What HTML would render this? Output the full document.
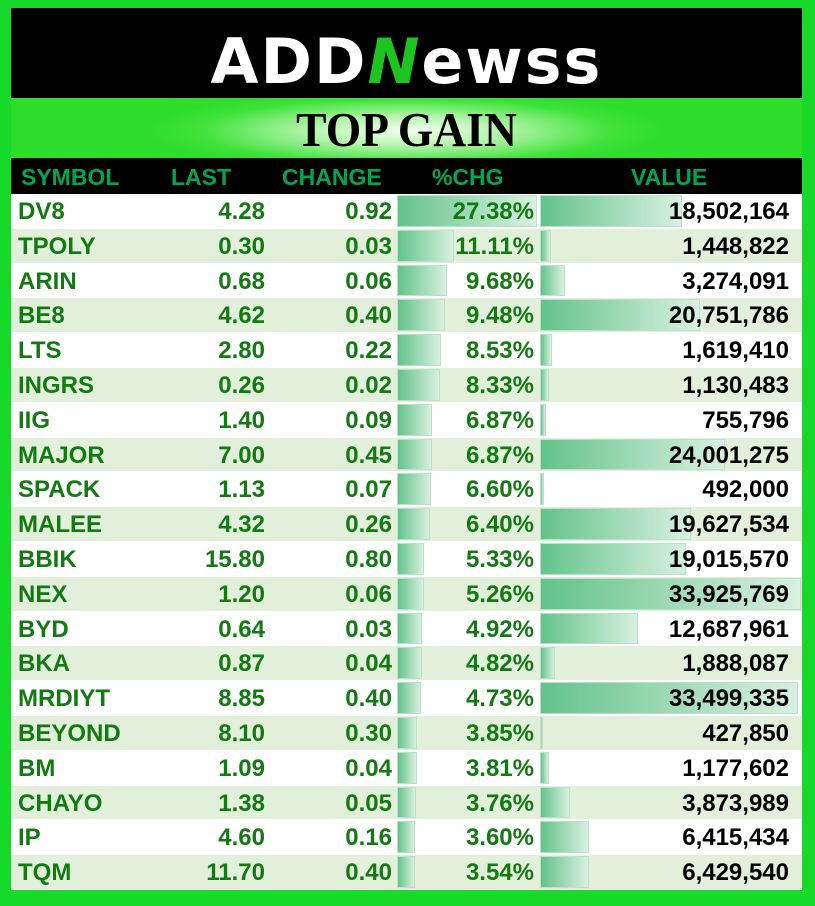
<!DOCTYPE html>
<html><head><meta charset="utf-8"><style>
*{margin:0;padding:0;box-sizing:border-box}
body{width:815px;height:906px;background:#16d92a;position:relative;overflow:hidden;font-family:"Liberation Sans",sans-serif}
#hdr{position:absolute;left:11px;top:8px;width:791px;height:90px;background:#000}
#logo{position:absolute;left:0;top:17px;width:791px;text-align:center;color:#fff;font-weight:bold;font-size:62px;letter-spacing:2px;font-family:"DejaVu Sans",sans-serif}
#band{position:absolute;left:11px;top:98px;width:791px;height:60px;background:radial-gradient(ellipse 260px 40px at 50% 55%,#f2fff2 0%,#b8f5b0 35%,#3fe23a 80%,#2edc2a 100%)}
#band div{text-align:center;font-family:"Liberation Serif",serif;font-weight:bold;font-size:49px;line-height:64px;color:#000;transform:scaleX(0.93)}
#th{position:absolute;left:11px;top:158px;width:791px;height:36px;background:#000;color:#00a650;font-weight:bold;font-size:23px}
#th span{position:absolute;top:6px}
#rows{position:absolute;left:11px;top:194px;width:791px;height:696px;display:flex;flex-direction:column}
.r{flex:1;position:relative;background:#fff;font-weight:bold;font-size:24px;color:#117a11;border-bottom:1px solid #fff}
.r:nth-child(even){background:#e2efda}
.r span{position:absolute;top:4px}
.s{left:7px}.l{right:537px}.c{right:410px}.p{right:268px}.v{right:13px;color:#000}
.b1,.b2{position:absolute;top:1px;bottom:1px;background:linear-gradient(90deg,#63c38a,#d8f0e0);border:1px solid #b9e2c8}
.b1{left:386px}.b2{left:529px}
</style></head><body>
<div id="hdr"><div id="logo">ADD<span style="color:#1fc51f;font-style:italic">N</span>ewss</div></div>
<div id="band"><div>TOP GAIN</div></div>
<div id="th"><span style="left:10px">SYMBOL</span><span style="left:160px">LAST</span><span style="left:271px">CHANGE</span><span style="left:421px">%CHG</span><span style="left:620px">VALUE</span></div>
<div id="rows">
<div class="r"><div class="b1" style="width:140px"></div><div class="b2" style="width:142px"></div><span class="s">DV8</span><span class="l">4.28</span><span class="c">0.92</span><span class="p">27.38%</span><span class="v">18,502,164</span></div>
<div class="r"><div class="b1" style="width:57px"></div><div class="b2" style="width:11px"></div><span class="s">TPOLY</span><span class="l">0.30</span><span class="c">0.03</span><span class="p">11.11%</span><span class="v">1,448,822</span></div>
<div class="r"><div class="b1" style="width:50px"></div><div class="b2" style="width:25px"></div><span class="s">ARIN</span><span class="l">0.68</span><span class="c">0.06</span><span class="p">9.68%</span><span class="v">3,274,091</span></div>
<div class="r"><div class="b1" style="width:48px"></div><div class="b2" style="width:160px"></div><span class="s">BE8</span><span class="l">4.62</span><span class="c">0.40</span><span class="p">9.48%</span><span class="v">20,751,786</span></div>
<div class="r"><div class="b1" style="width:44px"></div><div class="b2" style="width:12px"></div><span class="s">LTS</span><span class="l">2.80</span><span class="c">0.22</span><span class="p">8.53%</span><span class="v">1,619,410</span></div>
<div class="r"><div class="b1" style="width:43px"></div><div class="b2" style="width:9px"></div><span class="s">INGRS</span><span class="l">0.26</span><span class="c">0.02</span><span class="p">8.33%</span><span class="v">1,130,483</span></div>
<div class="r"><div class="b1" style="width:35px"></div><div class="b2" style="width:6px"></div><span class="s">IIG</span><span class="l">1.40</span><span class="c">0.09</span><span class="p">6.87%</span><span class="v">755,796</span></div>
<div class="r"><div class="b1" style="width:35px"></div><div class="b2" style="width:185px"></div><span class="s">MAJOR</span><span class="l">7.00</span><span class="c">0.45</span><span class="p">6.87%</span><span class="v">24,001,275</span></div>
<div class="r"><div class="b1" style="width:34px"></div><div class="b2" style="width:4px"></div><span class="s">SPACK</span><span class="l">1.13</span><span class="c">0.07</span><span class="p">6.60%</span><span class="v">492,000</span></div>
<div class="r"><div class="b1" style="width:33px"></div><div class="b2" style="width:151px"></div><span class="s">MALEE</span><span class="l">4.32</span><span class="c">0.26</span><span class="p">6.40%</span><span class="v">19,627,534</span></div>
<div class="r"><div class="b1" style="width:27px"></div><div class="b2" style="width:146px"></div><span class="s">BBIK</span><span class="l">15.80</span><span class="c">0.80</span><span class="p">5.33%</span><span class="v">19,015,570</span></div>
<div class="r"><div class="b1" style="width:27px"></div><div class="b2" style="width:261px"></div><span class="s">NEX</span><span class="l">1.20</span><span class="c">0.06</span><span class="p">5.26%</span><span class="v">33,925,769</span></div>
<div class="r"><div class="b1" style="width:25px"></div><div class="b2" style="width:98px"></div><span class="s">BYD</span><span class="l">0.64</span><span class="c">0.03</span><span class="p">4.92%</span><span class="v">12,687,961</span></div>
<div class="r"><div class="b1" style="width:25px"></div><div class="b2" style="width:15px"></div><span class="s">BKA</span><span class="l">0.87</span><span class="c">0.04</span><span class="p">4.82%</span><span class="v">1,888,087</span></div>
<div class="r"><div class="b1" style="width:24px"></div><div class="b2" style="width:258px"></div><span class="s">MRDIYT</span><span class="l">8.85</span><span class="c">0.40</span><span class="p">4.73%</span><span class="v">33,499,335</span></div>
<div class="r"><div class="b1" style="width:20px"></div><div class="b2" style="width:3px"></div><span class="s">BEYOND</span><span class="l">8.10</span><span class="c">0.30</span><span class="p">3.85%</span><span class="v">427,850</span></div>
<div class="r"><div class="b1" style="width:20px"></div><div class="b2" style="width:9px"></div><span class="s">BM</span><span class="l">1.09</span><span class="c">0.04</span><span class="p">3.81%</span><span class="v">1,177,602</span></div>
<div class="r"><div class="b1" style="width:19px"></div><div class="b2" style="width:30px"></div><span class="s">CHAYO</span><span class="l">1.38</span><span class="c">0.05</span><span class="p">3.76%</span><span class="v">3,873,989</span></div>
<div class="r"><div class="b1" style="width:18px"></div><div class="b2" style="width:49px"></div><span class="s">IP</span><span class="l">4.60</span><span class="c">0.16</span><span class="p">3.60%</span><span class="v">6,415,434</span></div>
<div class="r"><div class="b1" style="width:18px"></div><div class="b2" style="width:49px"></div><span class="s">TQM</span><span class="l">11.70</span><span class="c">0.40</span><span class="p">3.54%</span><span class="v">6,429,540</span></div>
</div>
</body></html>
